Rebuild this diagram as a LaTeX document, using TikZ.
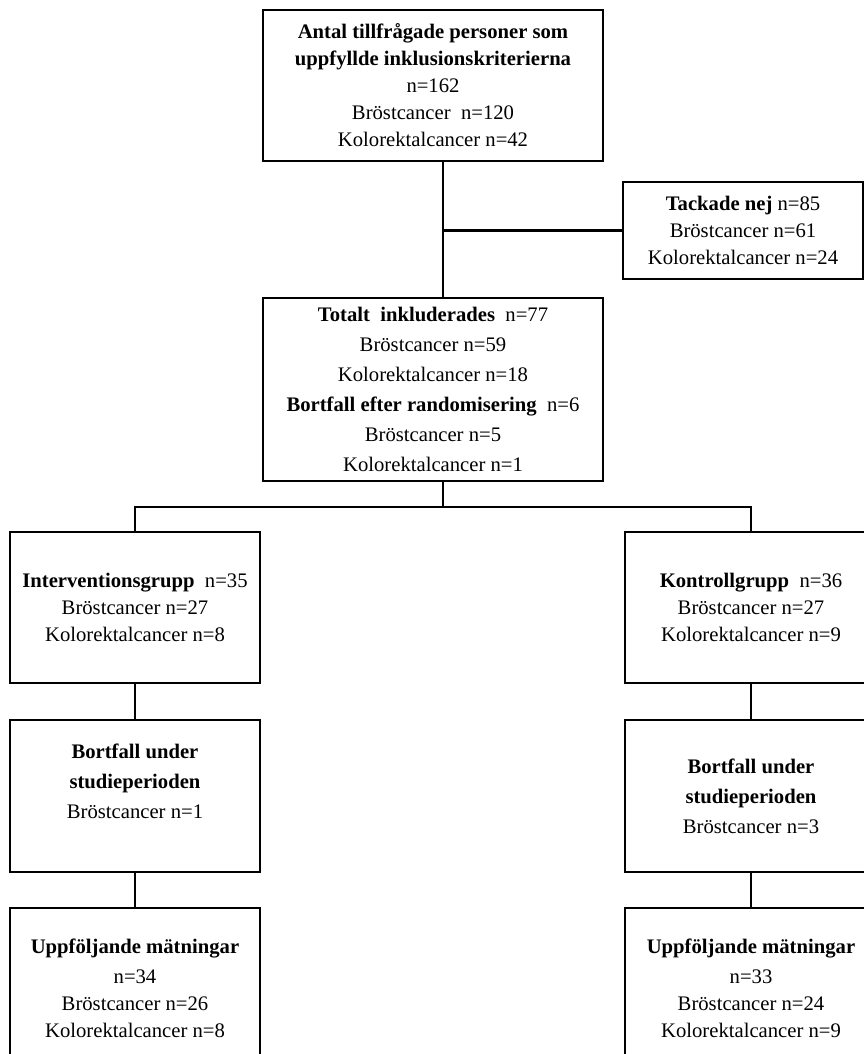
\documentclass[tikz,border=0pt]{standalone}
\usepackage{fontspec}
\setmainfont{Liberation Serif}
\usepackage{tikz}

\tikzset{
	box/.style={draw, line width=1.7pt, align=center, inner sep=0pt,
		font=\fontsize{15.5}{20.25}\selectfont},
	link/.style={line width=1.7pt},
}

\begin{document}
\begin{tikzpicture}[x=0.75pt, y=-0.75pt]
			\useasboundingbox (0,0) rectangle (864,1054);
			\clip (0,0) rectangle (864,1054);

			\def\trunkX{443};
			\def\splitY{507};

			\coordinate (trunk) at (\trunkX,0);
			\coordinate (split) at (\trunkX,\splitY);

			\begin{scope}
				\node[box, minimum width=255pt, minimum height=113.25pt] (asked) at (433,85.5)
					{\textbf{Antal tillfrågade personer som}\\ \textbf{uppfyllde inklusionskriterierna}\\ n=162\\ Bröstcancer\ \ n=120\\ Kolorektalcancer n=42};
				\node[box, minimum width=180pt, minimum height=72.75pt] (declined) at (743,230.5)
					{\textbf{Tackade nej} n=85\\ Bröstcancer n=61\\ Kolorektalcancer n=24};
				\node[box, minimum width=255pt, minimum height=137.25pt,
					font=\fontsize{15.5}{22.5}\selectfont] (included) at (433,389.5)
					{\textbf{Totalt\ \ inkluderades}\ \ n=77\\ Bröstcancer n=59\\ Kolorektalcancer n=18\\
					\textbf{Bortfall efter randomisering}\ \ n=6\\ Bröstcancer n=5\\ Kolorektalcancer n=1};
			\end{scope}

			\begin{scope}
				\node[box, minimum width=187.5pt, minimum height=113.25pt] (intervention) at (135,607.5)
					{\textbf{Interventionsgrupp}\ \ n=35\\ Bröstcancer n=27\\ Kolorektalcancer n=8};
				\node[box, minimum width=189pt, minimum height=113.25pt] (control) at (751,607.5)
					{\textbf{Kontrollgrupp}\ \ n=36\\ Bröstcancer n=27\\ Kolorektalcancer n=9};
				\node[box, minimum width=187.5pt, minimum height=114pt,
					font=\fontsize{15.5}{22.5}\selectfont] (dropleft) at (135,796)
					{\textbf{Bortfall under}\\ \textbf{studieperioden}\\ Bröstcancer n=1\\ ~};
				\node[box, minimum width=189pt, minimum height=114pt,
					font=\fontsize{15.5}{22.5}\selectfont] (dropright) at (751,796)
					{\textbf{Bortfall under}\\ \textbf{studieperioden}\\ Bröstcancer n=3};
				\node[box, minimum width=187.5pt, minimum height=120pt] (followleft) at (135,988)
					{\textbf{Uppföljande mätningar}\\[2pt] n=34\\ Bröstcancer n=26\\ Kolorektalcancer n=8};
				\node[box, minimum width=189pt, minimum height=120pt] (followright) at (751,988)
					{\textbf{Uppföljande mätningar}\\[2pt] n=33\\ Bröstcancer n=24\\ Kolorektalcancer n=9};
			\end{scope}

			% connectors
			\begin{scope}[link]
				\draw (asked.south -| trunk) -- (included.north -| trunk);
				\draw (trunk |- declined.west) -- (declined.west);
				\draw (included.south -| trunk) -- (split);
				\draw (intervention.north) |- (split) -| (control.north);
				\draw (intervention.south) -- (dropleft.north);
				\draw (control.south) -- (dropright.north);
				\draw (dropleft.south) -- (followleft.north);
				\draw (dropright.south) -- (followright.north);
			\end{scope}
		\end{tikzpicture}
\end{document}
